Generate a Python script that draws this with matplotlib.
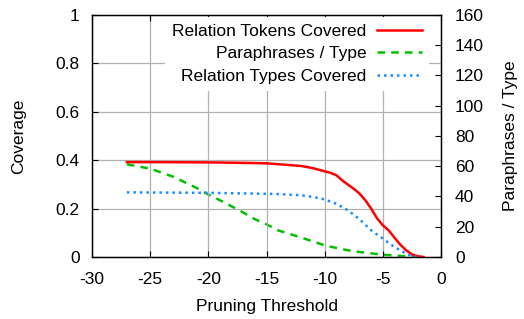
import matplotlib
matplotlib.use("Agg")
import matplotlib.pyplot as plt

plt.rcParams["font.family"] = ["Liberation Sans", "DejaVu Sans"]
plt.rcParams["axes.unicode_minus"] = False

# Relation Tokens Covered (left axis)
tok_x = [-27, -25, -20, -17, -15, -13.86, -12, -11, -10, -9.5, -9, -8.5, -8,
         -7.5, -7, -6.5, -6, -5.5, -5, -4.5, -4, -3.5, -3, -2.5, -2, -1.5]
tok_y = [0.392, 0.392, 0.391, 0.389, 0.387, 0.383, 0.376, 0.367, 0.354, 0.348,
         0.338, 0.317, 0.299, 0.282, 0.262, 0.234, 0.200, 0.160, 0.131, 0.110,
         0.080, 0.051, 0.028, 0.011, 0.003, 0.0]

# Relation Types Covered (left axis)
typ_x = [-27, -20, -16, -14, -12, -11, -10, -9, -8, -7, -6, -5, -4, -3.5, -3,
         -2.5, -2]
typ_y = [0.267, 0.265, 0.262, 0.260, 0.255, 0.248, 0.238, 0.220, 0.193, 0.156,
         0.110, 0.076, 0.041, 0.028, 0.014, 0.003, 0.0]

# Paraphrases / Type (right axis)
par_x = [-27, -25, -23, -21, -20, -19, -18, -17, -16, -15, -14, -12, -10, -9,
         -8, -7, -6, -5, -4, -3, -1.5]
par_y = [61.3, 58.4, 53, 45.6, 41.3, 37.5, 33.5, 29.4, 25, 21.6, 17.6, 12.8,
         7.7, 6, 4.4, 3.3, 2.4, 1.5, 1.0, 0.5, 0.5]

fig = plt.figure(figsize=(5.24, 3.19), dpi=100)
ax = fig.add_axes([0.1756, 0.1944, 0.666, 0.7586])
ax2 = ax.twinx()

fs = 12.5
l1, = ax.plot(tok_x, tok_y, color="#ff0000", lw=1.8, label="Relation Tokens Covered")
l2, = ax2.plot(par_x, par_y, color="#00c000", lw=1.8, dashes=(3, 2.5),
               label="Paraphrases / Type")
l3, = ax.plot(typ_x, typ_y, color="#1a8cff", lw=1.8, dashes=(1, 1.6),
              label="Relation Types Covered")

ax.set_xlim(-30, 0)
ax.set_ylim(0, 1)
ax2.set_ylim(0, 160)
ax.set_xticks(range(-30, 1, 5))
ax.set_yticks([0, 0.2, 0.4, 0.6, 0.8, 1])
ax.set_yticklabels(["0", "0.2", "0.4", "0.6", "0.8", "1"])
ax2.set_yticks(range(0, 161, 20))

ax.grid(True, color="#b0b0b0", lw=0.9)
ax.tick_params(direction="in", labelsize=fs, length=4, top=True, pad=9)
ax.tick_params(axis="x", pad=10.5)
ax2.tick_params(direction="in", labelsize=fs, length=4, pad=10)

ax.set_xlabel("Pruning Threshold", fontsize=fs, labelpad=9)
ax.set_ylabel("Coverage", fontsize=fs, labelpad=21)
ax2.set_ylabel("Paraphrases / Type", fontsize=fs, labelpad=14)

for a in (ax, ax2):
    for s in a.spines.values():
        s.set_linewidth(0.9)

ax.set_zorder(ax2.get_zorder() + 1)
ax.patch.set_visible(False)
leg = ax.legend(handles=[l1, l2, l3], loc="upper right", fontsize=fs,
                markerfirst=False, frameon=True, framealpha=1,
                facecolor="white", edgecolor="none", handlelength=2.6,
                borderaxespad=0.1, borderpad=0.4, labelspacing=0.42,
                fancybox=False, handletextpad=0.6,
                bbox_to_anchor=(0.97, 1.0))
leg.set_zorder(10)

fig.savefig("out.png", dpi=100)
